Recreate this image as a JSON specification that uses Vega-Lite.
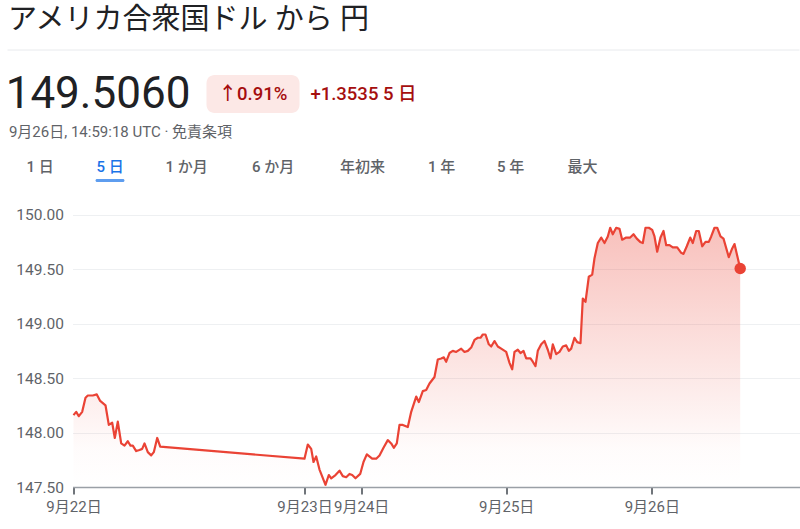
{
  "$schema": "https://vega.github.io/schema/vega-lite/v6.json",
  "background": "white",
  "padding": {"left": 5.5, "top": 0, "right": 0, "bottom": 0},
  "spacing": 0,
  "config": {
    "view": {"stroke": null},
    "font": "Roboto, 'Noto Sans CJK JP', sans-serif",
    "text": {"font": "Roboto, 'Noto Sans CJK JP', sans-serif"},
    "axis": {"labelFont": "Roboto, 'Noto Sans CJK JP', sans-serif"}
  },
  "vconcat": [
    {
      "width": 370, "height": 49,
      "data": {"values": [{"t": "アメリカ合衆国ドル から 円"}]},
      "mark": {"type": "text", "fontSize": 29, "color": "#202124", "dy": -5, "dx": -4},
      "encoding": {"text": {"field": "t"}}
    },
    {
      "width": 792, "height": 23,
      "data": {"values": [{"v": 1}]},
      "mark": {"type": "rule", "color": "#e8eaed", "strokeWidth": 1},
      "encoding": {"y": {"field": "v", "type": "quantitative", "scale": {"domain": [0, 1]}, "axis": null}}
    },
    {
      "bounds": "flush",
      "spacing": 0,
      "hconcat": [
        {
          "width": 199, "height": 38,
          "data": {"values": [{"t": "149.5060"}]},
          "mark": {"type": "text", "fontSize": 44, "color": "#202124", "dx": -9, "dy": 1},
          "encoding": {"text": {"field": "t"}}
        },
        {
          "width": 93, "height": 38,
          "view": {"fill": "#fce8e6", "cornerRadius": 8, "stroke": null},
          "data": {"values": [{"t": "↑0.91%"}]},
          "mark": {"type": "text", "fontSize": 18.5, "fontWeight": 500, "color": "#a50e0e"},
          "encoding": {"text": {"field": "t"}}
        },
        {
          "width": 128, "height": 38,
          "data": {"values": [{"t": "+1.3535 5 日"}]},
          "mark": {"type": "text", "fontSize": 18.5, "fontWeight": 500, "color": "#a50e0e"},
          "encoding": {"text": {"field": "t"}}
        }
      ]
    },
    {
      "width": 226, "height": 29,
      "data": {"values": [{"t": "9月26日, 14:59:18 UTC · 免責条項"}]},
      "mark": {"type": "text", "fontSize": 15, "color": "#5f6368"},
      "encoding": {"text": {"field": "t"}}
    },
    {
      "bounds": "flush",
      "spacing": 0,
      "hconcat": [
        {"width": 65, "height": 34.5, "data": {"values": [{"t": "1 日"}]}, "mark": {"type": "text", "fontSize": 15, "fontWeight": 500, "color": "#5f6368", "dy": 3.25}, "encoding": {"text": {"field": "t"}}},
        {
          "width": 75, "height": 34.5,
          "layer": [
            {"data": {"values": [{"t": "5 日"}]}, "mark": {"type": "text", "fontSize": 15, "fontWeight": 500, "color": "#1a73e8", "dy": 3.25}, "encoding": {"text": {"field": "t"}}},
            {"data": {"values": [{"v": 0}]}, "mark": {"type": "tick", "orient": "horizontal", "size": 29, "thickness": 3, "color": "#1a73e8", "cornerRadius": 1.5}, "encoding": {"y": {"field": "v", "type": "quantitative", "scale": {"domain": [0, 1]}, "axis": null}}}
          ]
        },
        {"width": 78, "height": 34.5, "data": {"values": [{"t": "1 か月"}]}, "mark": {"type": "text", "fontSize": 15, "fontWeight": 500, "color": "#5f6368", "dy": 3.25}, "encoding": {"text": {"field": "t"}}},
        {"width": 95, "height": 34.5, "data": {"values": [{"t": "6 か月"}]}, "mark": {"type": "text", "fontSize": 15, "fontWeight": 500, "color": "#5f6368", "dy": 3.25}, "encoding": {"text": {"field": "t"}}},
        {"width": 84, "height": 34.5, "data": {"values": [{"t": "年初来"}]}, "mark": {"type": "text", "fontSize": 15, "fontWeight": 500, "color": "#5f6368", "dy": 3.25}, "encoding": {"text": {"field": "t"}}},
        {"width": 74, "height": 34.5, "data": {"values": [{"t": "1 年"}]}, "mark": {"type": "text", "fontSize": 15, "fontWeight": 500, "color": "#5f6368", "dy": 3.25}, "encoding": {"text": {"field": "t"}}},
        {"width": 64, "height": 34.5, "data": {"values": [{"t": "5 年"}]}, "mark": {"type": "text", "fontSize": 15, "fontWeight": 500, "color": "#5f6368", "dy": 3.25}, "encoding": {"text": {"field": "t"}}},
        {"width": 80, "height": 34.5, "data": {"values": [{"t": "最大"}]}, "mark": {"type": "text", "fontSize": 15, "fontWeight": 500, "color": "#5f6368", "dy": 3.25}, "encoding": {"text": {"field": "t"}}}
      ]
    },
    {
      "bounds": "flush",
      "spacing": 0,
      "hconcat": [
        {
          "width": 65, "height": 305,
          "data": {"values": []},
          "mark": "text",
          "encoding": {}
        },
        {
          "width": 727, "height": 305,
          "data": {"values": [
            {"idx": 1, "price": 148.16}, {"idx": 3.7, "price": 148.19}, {"idx": 6.3, "price": 148.15}, {"idx": 9.7, "price": 148.19},
            {"idx": 13, "price": 148.32}, {"idx": 15.3, "price": 148.34}, {"idx": 20.3, "price": 148.34}, {"idx": 24.3, "price": 148.35},
            {"idx": 27.7, "price": 148.29}, {"idx": 33, "price": 148.25}, {"idx": 36.3, "price": 148.07}, {"idx": 39.7, "price": 148.09},
            {"idx": 42.3, "price": 147.95}, {"idx": 45.3, "price": 148.10}, {"idx": 48.7, "price": 147.90}, {"idx": 52, "price": 147.88},
            {"idx": 55.3, "price": 147.92}, {"idx": 58, "price": 147.88}, {"idx": 60.3, "price": 147.88}, {"idx": 63.7, "price": 147.83},
            {"idx": 67, "price": 147.84}, {"idx": 69.7, "price": 147.85}, {"idx": 72, "price": 147.90}, {"idx": 75.3, "price": 147.82},
            {"idx": 78.7, "price": 147.79}, {"idx": 81.3, "price": 147.82}, {"idx": 84.7, "price": 147.95}, {"idx": 87.7, "price": 147.87},
            {"idx": 232, "price": 147.76}, {"idx": 235.3, "price": 147.89}, {"idx": 238.7, "price": 147.85}, {"idx": 241, "price": 147.73},
            {"idx": 243.7, "price": 147.78}, {"idx": 247, "price": 147.66}, {"idx": 253, "price": 147.52}, {"idx": 256.3, "price": 147.61},
            {"idx": 258.7, "price": 147.58}, {"idx": 263, "price": 147.61}, {"idx": 267, "price": 147.65}, {"idx": 270.3, "price": 147.60},
            {"idx": 273.7, "price": 147.59}, {"idx": 277, "price": 147.62}, {"idx": 279.7, "price": 147.61}, {"idx": 283, "price": 147.58},
            {"idx": 287.7, "price": 147.62}, {"idx": 291, "price": 147.73}, {"idx": 294.3, "price": 147.80}, {"idx": 299.7, "price": 147.76},
            {"idx": 303.7, "price": 147.76}, {"idx": 307, "price": 147.79}, {"idx": 311, "price": 147.86}, {"idx": 315.3, "price": 147.93},
            {"idx": 318.7, "price": 147.90}, {"idx": 321.3, "price": 147.86}, {"idx": 324.3, "price": 147.90}, {"idx": 327, "price": 148.07},
            {"idx": 330.3, "price": 148.07}, {"idx": 335.3, "price": 148.05}, {"idx": 338.7, "price": 148.19}, {"idx": 343.7, "price": 148.33},
            {"idx": 346.3, "price": 148.28}, {"idx": 350.3, "price": 148.38}, {"idx": 353.7, "price": 148.39}, {"idx": 357, "price": 148.45},
            {"idx": 362, "price": 148.51}, {"idx": 365.3, "price": 148.67}, {"idx": 368.7, "price": 148.68}, {"idx": 371.3, "price": 148.69},
            {"idx": 373.7, "price": 148.65}, {"idx": 377, "price": 148.73}, {"idx": 380.3, "price": 148.75}, {"idx": 383.7, "price": 148.74},
            {"idx": 388.7, "price": 148.77}, {"idx": 392, "price": 148.74}, {"idx": 395.3, "price": 148.75}, {"idx": 398.7, "price": 148.78},
            {"idx": 402, "price": 148.85}, {"idx": 405.3, "price": 148.87}, {"idx": 408, "price": 148.87}, {"idx": 410.3, "price": 148.90},
            {"idx": 413, "price": 148.90}, {"idx": 416.3, "price": 148.81}, {"idx": 418.7, "price": 148.79}, {"idx": 422, "price": 148.84},
            {"idx": 425.3, "price": 148.79}, {"idx": 428.7, "price": 148.77}, {"idx": 433.7, "price": 148.74}, {"idx": 437, "price": 148.64},
            {"idx": 439.7, "price": 148.58}, {"idx": 442, "price": 148.74}, {"idx": 445.3, "price": 148.76}, {"idx": 448, "price": 148.73},
            {"idx": 451, "price": 148.75}, {"idx": 453.7, "price": 148.68}, {"idx": 458, "price": 148.68}, {"idx": 460.3, "price": 148.65},
            {"idx": 463, "price": 148.61}, {"idx": 465.3, "price": 148.75}, {"idx": 468.7, "price": 148.81}, {"idx": 472, "price": 148.84},
            {"idx": 475.3, "price": 148.76}, {"idx": 478, "price": 148.68}, {"idx": 480.3, "price": 148.81}, {"idx": 483.7, "price": 148.72},
            {"idx": 487, "price": 148.74}, {"idx": 490.3, "price": 148.79}, {"idx": 493.7, "price": 148.80}, {"idx": 496.3, "price": 148.75},
            {"idx": 498.7, "price": 148.77}, {"idx": 502, "price": 148.87}, {"idx": 504.7, "price": 148.83}, {"idx": 508, "price": 148.82},
            {"idx": 510.3, "price": 149.23}, {"idx": 513, "price": 149.20}, {"idx": 516.3, "price": 149.43}, {"idx": 519.7, "price": 149.45},
            {"idx": 522, "price": 149.60}, {"idx": 525.3, "price": 149.74}, {"idx": 528.7, "price": 149.79}, {"idx": 532, "price": 149.74},
            {"idx": 535.3, "price": 149.80}, {"idx": 537.7, "price": 149.88}, {"idx": 540.3, "price": 149.82}, {"idx": 543.7, "price": 149.88},
            {"idx": 547, "price": 149.87}, {"idx": 549.7, "price": 149.77}, {"idx": 553.7, "price": 149.79}, {"idx": 557.7, "price": 149.79},
            {"idx": 561, "price": 149.82}, {"idx": 564.3, "price": 149.78}, {"idx": 567.7, "price": 149.75}, {"idx": 570.3, "price": 149.74},
            {"idx": 573, "price": 149.88}, {"idx": 576.3, "price": 149.88}, {"idx": 579.7, "price": 149.86}, {"idx": 582, "price": 149.80},
            {"idx": 584.7, "price": 149.66}, {"idx": 588, "price": 149.79}, {"idx": 591, "price": 149.85}, {"idx": 593.7, "price": 149.72},
            {"idx": 597, "price": 149.72}, {"idx": 600.3, "price": 149.70}, {"idx": 604.7, "price": 149.70}, {"idx": 608.7, "price": 149.65},
            {"idx": 611, "price": 149.64}, {"idx": 614.3, "price": 149.71}, {"idx": 617.7, "price": 149.79}, {"idx": 620.3, "price": 149.74},
            {"idx": 623.7, "price": 149.85}, {"idx": 626.3, "price": 149.85}, {"idx": 629.7, "price": 149.71}, {"idx": 633, "price": 149.75},
            {"idx": 636.3, "price": 149.75}, {"idx": 638.7, "price": 149.80}, {"idx": 642, "price": 149.88}, {"idx": 644.7, "price": 149.88},
            {"idx": 648, "price": 149.80}, {"idx": 651, "price": 149.78}, {"idx": 656.3, "price": 149.61}, {"idx": 659.7, "price": 149.69},
            {"idx": 662, "price": 149.73}, {"idx": 667.7, "price": 149.506}
          ]},
          "encoding": {
            "x": {
              "field": "idx", "type": "quantitative",
              "scale": {"domain": [0, 727], "nice": false, "zero": false},
              "axis": {
                "values": [1, 232, 288.7, 433.7, 579.3],
                "labelExpr": "datum.value < 100 ? '9月22日' : datum.value < 260 ? '9月23日' : datum.value < 350 ? '9月24日' : datum.value < 500 ? '9月25日' : '9月26日'",
                "title": null, "grid": false,
                "domainColor": "#9aa0a6", "domainWidth": 1.5,
                "tickColor": "#70757a", "tickSize": 7, "tickWidth": 2,
                "labelFontSize": 15, "labelColor": "#5f6368", "labelPadding": 5,
                "labelOverlap": false, "labelFlush": false
              }
            },
            "y": {
              "field": "price", "type": "quantitative",
              "scale": {"domain": [147.5, 150.3], "nice": false, "zero": false},
              "axis": {
                "values": [147.5, 148, 148.5, 149, 149.5, 150],
                "format": ".2f", "title": null, "domain": false, "ticks": false,
                "grid": true, "gridColor": "#eef0f2", "gridWidth": 1,
                "labelFontSize": 15.5, "labelColor": "#5f6368", "labelPadding": 9,
                "labelFlush": false, "labelOverlap": false
              }
            }
          },
          "layer": [
            {
              "mark": {
                "type": "area",
                "color": {
                  "gradient": "linear", "x1": 0, "y1": 0, "x2": 0, "y2": 1,
                  "stops": [
                    {"offset": 0, "color": "rgba(234,67,53,0.33)"},
                    {"offset": 0.85, "color": "rgba(234,67,53,0.02)"},
                    {"offset": 1, "color": "rgba(234,67,53,0)"}
                  ]
                }
              },
              "encoding": {"y2": {"datum": 147.5}}
            },
            {
              "mark": {"type": "line", "color": "#ea4335", "strokeWidth": 2.2, "strokeJoin": "round"}
            },
            {
              "transform": [
                {"joinaggregate": [{"op": "max", "field": "idx", "as": "maxIdx"}]},
                {"filter": "datum.idx === datum.maxIdx"}
              ],
              "mark": {"type": "point", "filled": true, "size": 130, "color": "#ea4335", "opacity": 1}
            }
          ]
        }
      ]
    }
  ]
}
